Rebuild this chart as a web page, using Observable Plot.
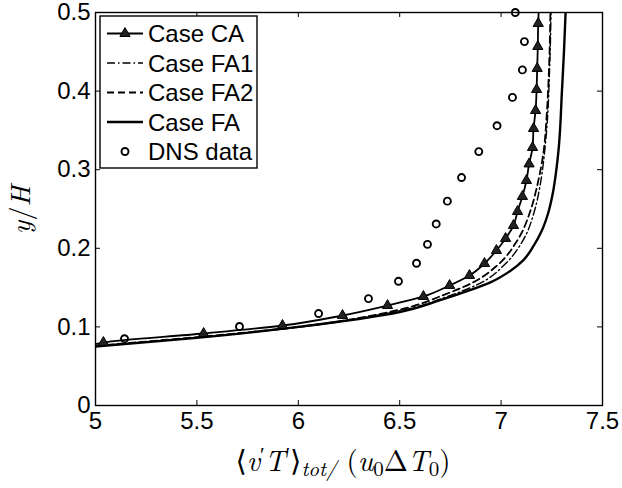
<!DOCTYPE html>
<html>
<head>
<meta charset="utf-8">
<script src="https://cdn.jsdelivr.net/npm/d3@7"></script>
<script src="https://cdn.jsdelivr.net/npm/@observablehq/plot@0.6"></script>
<style>
  html, body { margin: 0; padding: 0; background: #fff; }
</style>
</head>
<body>
<div id="chart"></div>
<script>
// Axis ticks
const xTicks = [5, 5.5, 6, 6.5, 7, 7.5];
const xTickLabels = ["5", "5.5", "6", "6.5", "7", "7.5"];
const yTicks = [0, 0.1, 0.2, 0.3, 0.4, 0.5];
const yTickLabels = ["0", "0.1", "0.2", "0.3", "0.4", "0.5"];

// Case CA (solid line; triangles on the interior points)
const caX = [5.0, 5.039, 5.533, 5.922, 6.218, 6.44, 6.617, 6.746, 6.844, 6.918, 6.977, 7.022, 7.061, 7.081, 7.105, 7.125, 7.138, 7.155, 7.16, 7.17, 7.175, 7.178, 7.181, 7.183, 7.185];
const caY = [0.078, 0.0802, 0.0916, 0.1018, 0.1145, 0.1272, 0.1387, 0.1527, 0.1654, 0.1807, 0.1972, 0.2125, 0.229, 0.2468, 0.2659, 0.2863, 0.3073, 0.3282, 0.3524, 0.3753, 0.402, 0.4288, 0.4567, 0.486, 0.5];

// Case FA1 (dash-dot)
const fa1X = [5.0, 5.5, 6.0, 6.5, 6.75, 6.9, 7.02, 7.11, 7.165, 7.195, 7.215, 7.23, 7.238, 7.243, 7.246];
const fa1Y = [0.0755, 0.0865, 0.0995, 0.1205, 0.140, 0.156, 0.180, 0.211, 0.248, 0.284, 0.324, 0.37, 0.42, 0.46, 0.5];

// Case FA2 (dashed)
const fa2X = [5.0, 5.5, 6.0, 6.5, 6.73, 6.865, 6.98, 7.08, 7.145, 7.18, 7.21, 7.225, 7.235, 7.24, 7.243];
const fa2Y = [0.076, 0.087, 0.100, 0.122, 0.142, 0.157, 0.178, 0.210, 0.248, 0.282, 0.324, 0.37, 0.42, 0.46, 0.5];

// Case FA (solid)
const faX = [5.0, 5.5, 6.0, 6.5, 6.7, 6.85, 6.95, 7.05, 7.11, 7.16, 7.2, 7.23, 7.255, 7.27, 7.285, 7.30, 7.31, 7.318];
const faY = [0.075, 0.086, 0.100, 0.119, 0.134, 0.147, 0.157, 0.172, 0.185, 0.203, 0.222, 0.243, 0.27, 0.295, 0.33, 0.40, 0.45, 0.5];

// DNS data (open circles)
const dnsX = [5.143, 5.71, 6.10, 6.346, 6.494, 6.583, 6.637, 6.68, 6.735, 6.805, 6.89, 6.98, 7.056, 7.105, 7.115, 7.07];
const dnsY = [0.085, 0.1005, 0.117, 0.136, 0.158, 0.181, 0.205, 0.231, 0.260, 0.290, 0.323, 0.356, 0.392, 0.427, 0.463, 0.500];

// Legend
const legendLabels = ["Case CA", "Case FA1", "Case FA2", "Case FA", "DNS data"];

const toRows = (xs, ys) => xs.map((x, i) => ({x, y: ys[i]}));
const ca = toRows(caX, caY);
const fa1 = toRows(fa1X, fa1Y);
const fa2 = toRows(fa2X, fa2Y);
const fa = toRows(faX, faY);
const dns = toRows(dnsX, dnsY);

const W = 622, H = 488;
const mL = 95, mR = 20, mT = 12, mB = 83;
const frameW = W - mL - mR, frameH = H - mT - mB;
const tickLen = 5;
const sans = "'Liberation Sans', Arial, Helvetica, sans-serif";

const svg = Plot.plot({
  width: W,
  height: H,
  marginLeft: mL,
  marginRight: mR,
  marginTop: mT,
  marginBottom: mB,
  style: {fontFamily: sans, fontSize: "24px", background: "#fff", color: "#000", overflow: "visible"},
  x: {domain: [5, 7.5], label: null},
  y: {domain: [0, 0.5], label: null},
  marks: [
    // inward ticks on all four sides
    Plot.tickX(xTicks, {x: d => d, insetTop: frameH - tickLen, stroke: "#000", strokeWidth: 1}),
    Plot.tickX(xTicks, {x: d => d, insetBottom: frameH - tickLen, stroke: "#000", strokeWidth: 1}),
    Plot.tickY(yTicks, {y: d => d, insetRight: frameW - tickLen, stroke: "#000", strokeWidth: 1}),
    Plot.tickY(yTicks, {y: d => d, insetLeft: frameW - tickLen, stroke: "#000", strokeWidth: 1}),
    Plot.axisX(xTicks, {tickSize: 0, tickPadding: 6, fontSize: 24, tickFormat: d => xTickLabels[xTicks.indexOf(d)], label: null}),
    Plot.axisY(yTicks, {tickSize: 0, tickPadding: 5, fontSize: 24, tickFormat: d => yTickLabels[yTicks.indexOf(d)], label: null}),
    Plot.line(fa, {x: "x", y: "y", stroke: "#000", strokeWidth: 2.4, curve: "monotone-y", clip: "frame"}),
    Plot.line(fa1, {x: "x", y: "y", stroke: "#000", strokeWidth: 1.4, strokeDasharray: "8,3,1.5,3", curve: "monotone-y", clip: "frame"}),
    Plot.line(fa2, {x: "x", y: "y", stroke: "#000", strokeWidth: 1.8, strokeDasharray: "7,4", curve: "monotone-y", clip: "frame"}),
    Plot.line(ca, {x: "x", y: "y", stroke: "#000", strokeWidth: 1.8, curve: "monotone-y", clip: "frame"}),
    Plot.dot(ca.slice(1, -1), {x: "x", y: "y", symbol: "triangle", r: 3.8, fill: "#222", stroke: "#000", strokeWidth: 1}),
    Plot.dot(dns, {x: "x", y: "y", symbol: "circle", r: 3.5, fill: "none", stroke: "#000", strokeWidth: 1.9}),
    Plot.frame({stroke: "#000", strokeWidth: 1.4})
  ]
});

document.getElementById("chart").appendChild(svg);

const root = d3.select(svg);

// Legend box
const lg = root.append("g").attr("class", "legend").attr("text-anchor", "start");
lg.append("rect")
  .attr("x", 100).attr("y", 16).attr("width", 157).attr("height", 152)
  .attr("fill", "#fff").attr("stroke", "#000").attr("stroke-width", 1.4);

const rowY = [33.5, 63, 92.5, 122, 151.5];
const styles = [
  {dash: null, width: 1.8},
  {dash: "8,3,1.5,3", width: 1.4},
  {dash: "7,4", width: 1.8},
  {dash: null, width: 2.4},
  null
];
legendLabels.forEach((label, i) => {
  const cy = rowY[i];
  const s = styles[i];
  if (s) {
    const ln = lg.append("line")
      .attr("x1", 107).attr("x2", 143).attr("y1", cy).attr("y2", cy)
      .attr("stroke", "#000").attr("stroke-width", s.width);
    if (s.dash) ln.attr("stroke-dasharray", s.dash);
  }
  if (i === 0) {
    lg.append("path")
      .attr("transform", `translate(125,${cy})`)
      .attr("d", d3.symbol(d3.symbolTriangle, Math.PI * 3.8 * 3.8)())
      .attr("fill", "#222").attr("stroke", "#000");
  }
  if (i === 4) {
    lg.append("circle").attr("cx", 125).attr("cy", cy).attr("r", 3.5)
      .attr("fill", "none").attr("stroke", "#000").attr("stroke-width", 1.9);
  }
  lg.append("text")
    .attr("x", 148).attr("y", cy + 8.6)
    .attr("text-anchor", "start")
    .attr("font-family", sans)
    .attr("font-size", 24)
    .text(label);
});

// Axis titles (math-style serif text)
const serif = "'Latin Modern Roman', 'Liberation Serif', 'DejaVu Serif', serif";
const xl = root.append("text")
  .attr("x", 343).attr("y", 471)
  .attr("text-anchor", "middle")
  .attr("font-family", serif)
  .attr("font-size", 29);
xl.append("tspan").text("\u27E8");
xl.append("tspan").attr("font-style", "italic").text("v");
xl.append("tspan").attr("font-size", 21).attr("dy", -9).text("\u2032");
xl.append("tspan").attr("font-style", "italic").attr("dy", 9).text("T");
xl.append("tspan").attr("font-size", 21).attr("dy", -9).text("\u2032");
xl.append("tspan").attr("dy", 9).text("\u27E9");
xl.append("tspan").attr("font-style", "italic").attr("font-size", 21).attr("dy", 5).text("tot/");
xl.append("tspan").attr("dy", -5).text(" (");
xl.append("tspan").attr("font-style", "italic").text("u");
xl.append("tspan").attr("font-size", 21).attr("dy", 5).text("0");
xl.append("tspan").attr("dy", -5).text("\u0394");
xl.append("tspan").attr("font-style", "italic").text("T");
xl.append("tspan").attr("font-size", 21).attr("dy", 5).text("0");
xl.append("tspan").attr("dy", -5).text(")");

const yl = root.append("text")
  .attr("transform", "translate(30,210) rotate(-90)")
  .attr("text-anchor", "middle")
  .attr("font-family", serif)
  .attr("font-size", 28);
yl.append("tspan").attr("font-style", "italic").text("y");
yl.append("tspan").text("/");
yl.append("tspan").attr("font-style", "italic").text("H");
</script>
</body>
</html>
